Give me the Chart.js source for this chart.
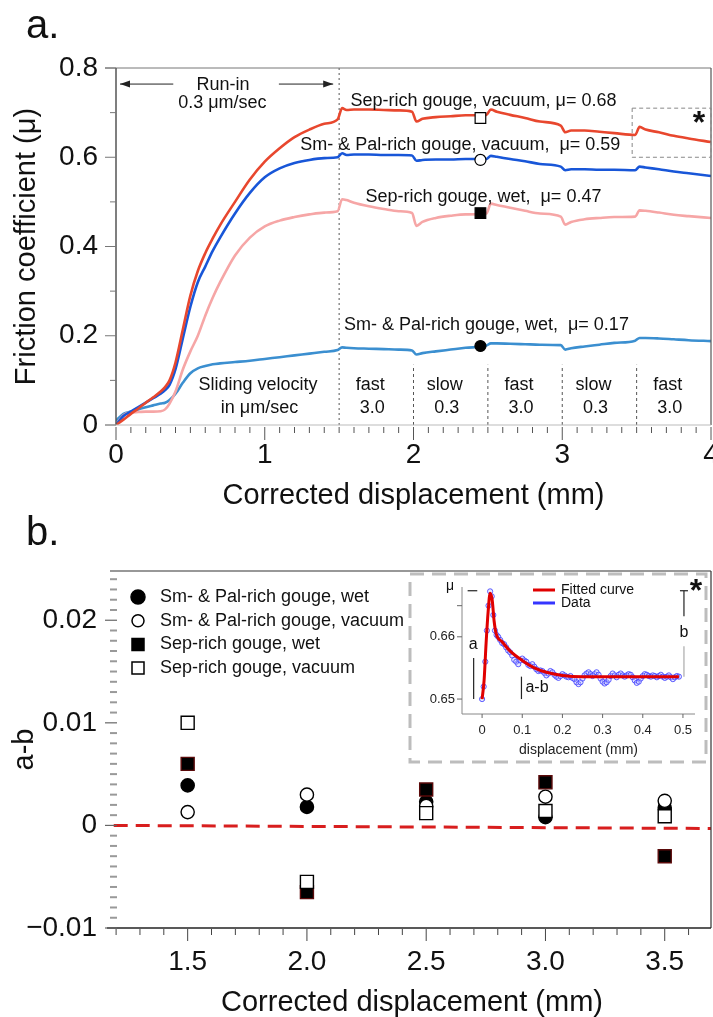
<!DOCTYPE html>
<html>
<head>
<meta charset="utf-8">
<script src="https://cdn.jsdelivr.net/npm/chart.js@4.4.1/dist/chart.umd.min.js"></script>
<style>
html, body { margin: 0; padding: 0; background: #fff; }
#wrap { position: relative; width: 713px; height: 1017px; }
canvas { position: absolute; }
#chartA { left: 0; top: 0; }
#chartB { left: 0; top: 510px; }
#inset { left: 412px; top: 576px; }
</style>
</head>
<body>
<div id="wrap">
<canvas id="chartA" width="713" height="510"></canvas>
<canvas id="chartB" width="713" height="507"></canvas>
<canvas id="inset" width="292" height="182"></canvas>
</div>
<script>
const FONT = '"Liberation Sans", Arial, Helvetica, sans-serif';

// ---- panel a : friction coefficient vs corrected displacement (mm)
const displacement = [0, 0.05, 0.1, 0.15, 0.2, 0.25, 0.3, 0.33, 0.36, 0.4, 0.45, 0.5, 0.55, 0.6, 0.65, 0.7, 0.8, 0.9, 1.0, 1.1, 1.2, 1.3, 1.4, 1.49,
	1.52, 1.55, 1.6, 1.7, 1.8, 1.9, 1.99, 2.02, 2.06, 2.15, 2.25, 2.35, 2.49, 2.52, 2.56, 2.65, 2.75, 2.85, 2.99,
	3.02, 3.06, 3.15, 3.25, 3.35, 3.49, 3.52, 3.56, 3.65, 3.75, 3.85, 4.0];
const sepVacuum = [0, 0.012, 0.025, 0.037, 0.05, 0.062, 0.075, 0.085, 0.1, 0.14, 0.215, 0.29, 0.345, 0.385, 0.418, 0.448, 0.5, 0.55, 0.59, 0.62, 0.645, 0.662, 0.675, 0.685,
	0.71, 0.706, 0.707, 0.707, 0.706, 0.705, 0.702, 0.68, 0.686, 0.69, 0.692, 0.694, 0.695, 0.707, 0.702, 0.695, 0.688, 0.68, 0.671,
	0.656, 0.66, 0.66, 0.657, 0.654, 0.65, 0.668, 0.662, 0.656, 0.648, 0.642, 0.634];
const smPalVacuum = [0, 0.02, 0.03, 0.04, 0.05, 0.06, 0.07, 0.078, 0.09, 0.125, 0.195, 0.265, 0.32, 0.355, 0.39, 0.42, 0.474, 0.52, 0.555, 0.575, 0.587, 0.594, 0.598, 0.6,
	0.609, 0.605, 0.606, 0.606, 0.605, 0.605, 0.604, 0.592, 0.594, 0.595, 0.595, 0.596, 0.596, 0.603, 0.601, 0.596, 0.591, 0.585, 0.579,
	0.571, 0.573, 0.573, 0.572, 0.572, 0.571, 0.579, 0.577, 0.573, 0.568, 0.564, 0.558];
const sepWet = [0, 0.022, 0.028, 0.029, 0.03, 0.03, 0.031, 0.035, 0.048, 0.075, 0.125, 0.165, 0.2, 0.245, 0.285, 0.32, 0.38, 0.42, 0.445, 0.458, 0.466, 0.472, 0.476, 0.479,
	0.506, 0.504, 0.498, 0.49, 0.484, 0.479, 0.475, 0.446, 0.455, 0.464, 0.469, 0.472, 0.474, 0.496, 0.493, 0.487, 0.48, 0.474, 0.467,
	0.449, 0.455, 0.461, 0.464, 0.466, 0.467, 0.481, 0.48, 0.476, 0.471, 0.468, 0.464];
const smPalWet = [0.01, 0.025, 0.03, 0.035, 0.04, 0.044, 0.048, 0.05, 0.056, 0.07, 0.095, 0.116, 0.127, 0.132, 0.136, 0.138, 0.141, 0.144, 0.148, 0.152, 0.156, 0.16, 0.164, 0.168,
	0.174, 0.173, 0.172, 0.171, 0.17, 0.169, 0.167, 0.158, 0.161, 0.165, 0.169, 0.173, 0.178, 0.183, 0.183, 0.182, 0.181, 0.18, 0.179,
	0.169, 0.172, 0.176, 0.18, 0.184, 0.189, 0.195, 0.195, 0.194, 0.192, 0.19, 0.188];
const curveNames = ['Sep-rich gouge, vacuum, μ= 0.68', 'Sm- & Pal-rich gouge, vacuum,  μ= 0.59', 'Sep-rich gouge, wet,  μ= 0.47', 'Sm- & Pal-rich gouge, wet,  μ= 0.17'];
const markerX = 2.45;
const markerMu = [0.688, 0.594, 0.475, 0.177];
const velocityChanges = [1.5, 2.0, 2.5, 3.0, 3.5];
const velocityLineTop = [0.8, 0.135, 0.135, 0.135, 0.135];
const velocityNames = ['fast', 'slow', 'fast', 'slow', 'fast'];
const velocityValues = ['3.0', '0.3', '3.0', '0.3', '3.0'];

// ---- panel b : a-b vs corrected displacement
const stepDisplacement = [1.5, 2.0, 2.5, 3.0, 3.5];
const abSmPalWet = [0.0039, 0.0018, 0.0023, 0.0008, 0.0017];
const abSmPalVacuum = [0.0013, 0.0030, 0.0019, 0.0028, 0.0024];
const abSepWet = [0.0060, -0.0065, 0.0035, 0.0042, -0.0030];
const abSepVacuum = [0.0100, -0.0055, 0.0012, 0.0014, 0.0009];
const seriesNames = ['Sm- & Pal-rich gouge, wet', 'Sm- & Pal-rich gouge, vacuum', 'Sep-rich gouge, wet', 'Sep-rich gouge, vacuum'];
const zeroLineX = [1.19, 3.694];
const zeroLineY = [0, -0.0003];

// ---- inset : single velocity step
const insetX = [0, 0.004, 0.008, 0.012, 0.016, 0.02, 0.024, 0.028, 0.032, 0.036, 0.04, 0.045, 0.05, 0.055, 0.06, 0.065, 0.07, 0.075, 0.08, 0.085, 0.09, 0.095,
	0.1, 0.105, 0.11, 0.115, 0.12, 0.125, 0.13, 0.135, 0.14, 0.145, 0.15, 0.155, 0.16, 0.165, 0.17, 0.175, 0.18, 0.185, 0.19, 0.195,
	0.2, 0.205, 0.21, 0.215, 0.22, 0.225, 0.23, 0.235, 0.24, 0.245, 0.25, 0.255, 0.26, 0.265, 0.27, 0.275, 0.28, 0.285, 0.29, 0.295,
	0.3, 0.305, 0.31, 0.315, 0.32, 0.325, 0.33, 0.335, 0.34, 0.345, 0.35, 0.355, 0.36, 0.365, 0.37, 0.375, 0.38, 0.385, 0.39, 0.395,
	0.4, 0.405, 0.41, 0.415, 0.42, 0.425, 0.43, 0.435, 0.44, 0.445, 0.45, 0.455, 0.46, 0.465, 0.47, 0.475, 0.48, 0.485, 0.49];
const insetMu = [0.650, 0.652, 0.656, 0.661, 0.665, 0.6673, 0.6665, 0.6635, 0.661, 0.6603, 0.6600, 0.6595, 0.6590, 0.6588, 0.6583, 0.6578, 0.6575, 0.6570, 0.6563, 0.6560, 0.6556, 0.6562,
	0.6565, 0.6562, 0.6560, 0.6555, 0.6553, 0.6556, 0.6552, 0.6548, 0.6545, 0.6546, 0.6545, 0.6542, 0.6538, 0.6541, 0.6545, 0.6543, 0.6539, 0.6536, 0.6534, 0.6537,
	0.6540, 0.6538, 0.6536, 0.6535, 0.6537, 0.6534, 0.6532, 0.6527, 0.6524, 0.6527, 0.6533, 0.6538, 0.6541, 0.6543, 0.6540, 0.6537, 0.6540, 0.6543, 0.6539, 0.6533,
	0.6528, 0.6525, 0.6527, 0.6531, 0.6537, 0.6541, 0.6538, 0.6535, 0.6539, 0.6541, 0.6538, 0.6536, 0.6538, 0.6540, 0.6539, 0.6535, 0.6530, 0.6526, 0.6528, 0.6533,
	0.6537, 0.6540, 0.6539, 0.6537, 0.6536, 0.6538, 0.6537, 0.6535, 0.6537, 0.6539, 0.6536, 0.6534, 0.6536, 0.6538, 0.6535, 0.6532, 0.6535, 0.6537, 0.6536];
const fitX = [0, 0.005, 0.01, 0.015, 0.02, 0.025, 0.03, 0.035, 0.05, 0.07, 0.1, 0.13, 0.16, 0.2, 0.25, 0.3, 0.4, 0.49];
const fitMu = [0.650, 0.653, 0.659, 0.664, 0.667, 0.666, 0.6625, 0.6605, 0.6592, 0.6577, 0.6562, 0.655, 0.6543, 0.6538, 0.6536, 0.6536, 0.6536, 0.6536];

Chart.defaults.font.family = FONT;
Chart.defaults.color = '#111';

function seg(ctx, x1, y1, x2, y2, color, width, dash) {
	ctx.save();
	ctx.beginPath();
	ctx.setLineDash(dash || []);
	ctx.strokeStyle = color;
	ctx.lineWidth = width;
	ctx.moveTo(x1, y1);
	ctx.lineTo(x2, y2);
	ctx.stroke();
	ctx.restore();
}

function text(ctx, str, x, y, size, align, weight, baseline) {
	ctx.save();
	ctx.font = (weight || 'normal') + ' ' + size + 'px ' + FONT;
	ctx.fillStyle = '#111';
	ctx.textAlign = align || 'center';
	ctx.textBaseline = baseline || 'middle';
	ctx.fillText(str, x, y);
	ctx.restore();
}

function arrow(ctx, x1, y, x2) {
	seg(ctx, x1, y, x2, y, '#222', 1);
	const dir = Math.sign(x2 - x1);
	ctx.save();
	ctx.fillStyle = '#222';
	ctx.beginPath();
	ctx.moveTo(x2, y);
	ctx.lineTo(x2 - dir * 10, y - 3.5);
	ctx.lineTo(x2 - dir * 10, y + 3.5);
	ctx.closePath();
	ctx.fill();
	ctx.restore();
}

function marker(ctx, shape, filled, x, y, size) {
	ctx.save();
	ctx.fillStyle = filled ? '#000' : '#fff';
	ctx.strokeStyle = '#000';
	ctx.lineWidth = 1.5;
	ctx.beginPath();
	if (shape == 'circle')
		ctx.arc(x, y, size / 2, 0, Math.PI * 2);
	else
		ctx.rect(x - size / 2, y - size / 2, size, size);
	ctx.fill();
	ctx.stroke();
	ctx.restore();
}

// fixed axis boxes, no extra room for the edge labels
function fixHeight(h) {
	return s => { s.height = h; s.paddingLeft = 0; s.paddingRight = 0; };
}
function fixWidth(w) {
	return s => { s.width = w; s.paddingTop = 0; s.paddingBottom = 0; };
}

// ---------------- panel a
const panelA = {
	id: 'panelA',
	afterDraw(chart) {
		const {ctx, chartArea: {left, right, top, bottom}, scales: {x, y}} = chart;

		seg(ctx, left - 11, top, right, top, '#777', 1);
		seg(ctx, left, top, left, bottom, '#555', 1.5);
		seg(ctx, right, top, right, bottom, '#555', 1.2);
		seg(ctx, left - 11, bottom, right, bottom, '#bbb', 1.2);
		for (let i = 0; i <= 40; i++) {
			const px = x.getPixelForValue(i / 10);
			seg(ctx, px, bottom + 2, px, bottom + (i % 10 == 0 ? 15 : 8), '#555', 1);
		}
		for (let i = 0; i <= 8; i++) {
			const py = y.getPixelForValue(i / 10);
			seg(ctx, left - (i % 2 == 0 ? 11 : 6), py, left, py, '#777', 1);
		}

		// run-in arrows and notes
		const ay = y.getPixelForValue(0.764);
		arrow(ctx, x.getPixelForValue(0.385), ay, x.getPixelForValue(0.027));
		arrow(ctx, x.getPixelForValue(1.095), ay, x.getPixelForValue(1.46));
		text(ctx, 'Run-in', x.getPixelForValue(0.72), ay + 1, 18);
		text(ctx, '0.3 μm/sec', x.getPixelForValue(0.715), ay + 19, 18);

		text(ctx, 'Sliding velocity', x.getPixelForValue(0.955), y.getPixelForValue(0.0885), 18);
		text(ctx, 'in μm/sec', x.getPixelForValue(0.965), y.getPixelForValue(0.039), 18);
		for (let i = 0; i < velocityNames.length; i++) {
			const cx = x.getPixelForValue(velocityChanges[i] + 0.21);
			text(ctx, velocityNames[i], cx, y.getPixelForValue(0.0885), 18);
			text(ctx, velocityValues[i], cx + 2, y.getPixelForValue(0.039), 18);
		}

		text(ctx, curveNames[0], x.getPixelForValue(2.47), y.getPixelForValue(0.726), 18);
		text(ctx, curveNames[1], x.getPixelForValue(2.315), y.getPixelForValue(0.627), 18);
		text(ctx, curveNames[2], x.getPixelForValue(2.47), y.getPixelForValue(0.511), 18);
		text(ctx, curveNames[3], x.getPixelForValue(2.49), y.getPixelForValue(0.224), 18);

		// zoom box
		ctx.save();
		ctx.setLineDash([4, 3]);
		ctx.strokeStyle = '#888';
		ctx.lineWidth = 1;
		const bx = x.getPixelForValue(3.47), by = y.getPixelForValue(0.71);
		ctx.strokeRect(bx, by, right - bx, y.getPixelForValue(0.6) - by);
		ctx.restore();
		text(ctx, '*', right - 12, by + 25, 32, 'center', 'bold', 'alphabetic');

		text(ctx, 'a.', 26, 38, 40, 'left', 'normal', 'alphabetic');
	}
};

function curve(label, ys, color, order) {
	return {
		type: 'line', label: label,
		data: displacement.map((d, i) => ({x: d, y: ys[i]})),
		borderColor: color, borderWidth: 2.6, pointRadius: 0, showLine: true,
		cubicInterpolationMode: 'monotone', order: order,
	};
}

const datasetsA = [
	curve(curveNames[0], sepVacuum, '#e8472e', 1),
	curve(curveNames[1], smPalVacuum, '#1856d8', 2),
	curve(curveNames[2], sepWet, '#f6a6a6', 3),
	curve(curveNames[3], smPalWet, '#3b8fd0', 4),
];
velocityChanges.forEach((v, i) => {
	datasetsA.push({
		type: 'line', data: [{x: v, y: 0}, {x: v, y: velocityLineTop[i]}],
		borderColor: '#555', borderWidth: 1, borderDash: i == 0 ? [2, 3] : [3, 3],
		pointRadius: 0, showLine: true, order: 10,
	});
});
const markerShape = ['rect', 'circle', 'rect', 'circle'];
markerMu.forEach((m, i) => {
	datasetsA.push({
		type: 'scatter', data: [{x: markerX, y: m}],
		pointStyle: markerShape[i], pointRadius: markerShape[i] == 'rect' ? 7.5 : 5.5,
		backgroundColor: i < 2 ? '#fff' : '#000', borderColor: '#000', borderWidth: 1.2,
		order: 0,
	});
});

new Chart(document.getElementById('chartA'), {
	type: 'scatter',
	data: {datasets: datasetsA},
	options: {
		responsive: false, animation: false, devicePixelRatio: 1, events: [],
		layout: {autoPadding: false, padding: {left: 0, right: 2, top: 68, bottom: 0}},
		plugins: {legend: {display: false}, tooltip: {enabled: false}},
		scales: {
			x: {
				type: 'linear', min: 0, max: 4,
				afterFit: fixHeight(85),
				grid: {display: false, drawTicks: false}, border: {display: false},
				ticks: {stepSize: 1, padding: 13, font: {size: 28}, color: '#111', callback: v => String(v)},
				title: {display: true, text: 'Corrected displacement (mm)', font: {size: 29, lineHeight: 1}, padding: {top: 0, bottom: 0}, color: '#111'},
			},
			y: {
				type: 'linear', min: 0, max: 0.8,
				afterFit: fixWidth(116),
				grid: {display: false, drawTicks: false}, border: {display: false},
				ticks: {stepSize: 0.2, padding: 18, font: {size: 28}, color: '#111', callback: v => v == 0 ? '0' : v.toFixed(1)},
				title: {display: true, text: 'Friction coefficient (μ)', font: {size: 29, lineHeight: 1}, padding: {top: 12, bottom: 0}, color: '#111'},
			},
		},
	},
	plugins: [panelA],
});

// ---------------- panel b
const shapesB = ['circle', 'circle', 'rect', 'rect'];
const filledB = [true, false, true, false];
const valuesB = [abSmPalWet, abSmPalVacuum, abSepWet, abSepVacuum];

const panelB = {
	id: 'panelB',
	afterDraw(chart) {
		const {ctx, chartArea: {left, right, top, bottom}, scales: {x, y}} = chart;

		seg(ctx, left - 3, top, right, top, '#333', 1.2);
		seg(ctx, right, top, right, bottom, '#333', 1.2);
		seg(ctx, left - 6, bottom, right, bottom, '#222', 1.6);
		for (let i = 12; i <= 36; i++) {
			const px = x.getPixelForValue(i / 10);
			seg(ctx, px, bottom + 1, px, bottom + (i % 5 == 0 ? 13 : 7), '#444', 1);
		}
		for (let i = -10; i <= 24; i++) {
			const py = y.getPixelForValue(i / 1000);
			const major = i % 10 == 0;
			seg(ctx, left - (major ? 8 : 3), py, left + 4, py, major ? '#666' : '#999', major ? 1.2 : 2);
		}

		// legend
		for (let i = 0; i < seriesNames.length; i++) {
			const ly = top + 26 + i * 23.7;
			marker(ctx, shapesB[i], filledB[i], left + 25, ly, filledB[i] && shapesB[i] == 'circle' ? 14 : 12);
			text(ctx, seriesNames[i], left + 47, ly, 18, 'left');
		}

		// inset frame
		ctx.save();
		ctx.setLineDash([14, 8]);
		ctx.strokeStyle = '#bdbdbd';
		ctx.lineWidth = 3;
		ctx.strokeRect(410, top + 3, right - 5 - 410, 188);
		ctx.restore();

		text(ctx, 'b.', 26, 35, 40, 'left', 'normal', 'alphabetic');
	}
};

const datasetsB = [{
	type: 'line', data: zeroLineX.map((v, i) => ({x: v, y: zeroLineY[i]})),
	borderColor: '#d81e1e', borderWidth: 3, borderDash: [14, 8], pointRadius: 0, showLine: true, order: 10,
}];
valuesB.forEach((vals, i) => {
	datasetsB.push({
		type: 'scatter', label: seriesNames[i],
		data: stepDisplacement.map((d, j) => ({x: d, y: vals[j]})),
		pointStyle: shapesB[i], pointRadius: shapesB[i] == 'rect' ? 9.2 : 6.6,
		backgroundColor: filledB[i] ? '#000' : '#fff',
		borderColor: filledB[i] && shapesB[i] == 'rect' ? '#5a0a0a' : '#000', borderWidth: 1.4,
		order: 4 - i,
	});
});

new Chart(document.getElementById('chartB'), {
	type: 'scatter',
	data: {datasets: datasetsB},
	options: {
		responsive: false, animation: false, devicePixelRatio: 1, events: [],
		layout: {autoPadding: false, padding: {left: 0, right: 2, top: 61, bottom: 0}},
		plugins: {legend: {display: false}, tooltip: {enabled: false}},
		scales: {
			x: {
				type: 'linear', min: 1.187, max: 3.694,
				afterFit: fixHeight(89),
				grid: {display: false, drawTicks: false}, border: {display: false},
				ticks: {stepSize: 0.5, includeBounds: false, padding: 17, font: {size: 28}, color: '#111', callback: v => v.toFixed(1)},
				title: {display: true, text: 'Corrected displacement (mm)', font: {size: 29, lineHeight: 1}, padding: {top: 0, bottom: 0}, color: '#111'},
			},
			y: {
				type: 'linear', min: -0.01, max: 0.0248,
				afterFit: fixWidth(113),
				grid: {display: false, drawTicks: false}, border: {display: false},
				ticks: {stepSize: 0.01, includeBounds: false, padding: 16, font: {size: 28}, color: '#111',
					callback: v => Math.abs(v) < 1e-9 ? '0' : v.toFixed(2).replace('-', '\u2212')},
				title: {display: true, text: 'a-b', font: {size: 29, lineHeight: 1}, padding: {top: 10, bottom: 0}, color: '#111'},
			},
		},
	},
	plugins: [panelB],
});

// ---------------- inset
const insetPanel = {
	id: 'insetPanel',
	afterDraw(chart) {
		const {ctx, chartArea: {left, right, top, bottom}, scales: {x, y}} = chart;

		seg(ctx, left, top, left, bottom, '#888', 1);
		seg(ctx, left, bottom, right, bottom, '#888', 1);
		for (let i = 0; i <= 5; i++) {
			const px = x.getPixelForValue(i / 10);
			seg(ctx, px, bottom, px, bottom + 4, '#666', 1);
		}
		[0.65, 0.66, 0.665].forEach(v => {
			const py = y.getPixelForValue(v);
			seg(ctx, left - 5, py, left, py, '#666', 1);
		});

		text(ctx, 'μ', left - 12, top - 1, 14);
		text(ctx, '*', right + 1, top + 14, 32, 'center', 'bold', 'alphabetic');

		// legend
		seg(ctx, 121, 14, 143, 14, '#e00000', 3);
		text(ctx, 'Fitted curve', 149, 14, 14, 'left');
		seg(ctx, 121, 27, 143, 27, '#3535ff', 3);
		text(ctx, 'Data', 149, 27, 14, 'left');

		// a, a-b, b brackets
		const pk = y.getPixelForValue(0.6674);
		seg(ctx, x.getPixelForValue(-0.036), pk, x.getPixelForValue(-0.012), pk, '#222', 1.2);
		seg(ctx, x.getPixelForValue(-0.021), y.getPixelForValue(0.6566), x.getPixelForValue(-0.021), y.getPixelForValue(0.650), '#222', 1.2);
		text(ctx, 'a', x.getPixelForValue(-0.022), y.getPixelForValue(0.6588), 16);
		const abx = x.getPixelForValue(0.098);
		seg(ctx, abx, y.getPixelForValue(0.6536), abx, y.getPixelForValue(0.650), '#222', 1.2);
		text(ctx, 'a-b', abx + 4, y.getPixelForValue(0.6518), 16, 'left');
		const bx = x.getPixelForValue(0.5025);
		seg(ctx, bx - 4, pk, bx + 4, pk, '#222', 1.2);
		seg(ctx, bx, pk, bx, y.getPixelForValue(0.6633), '#222', 1.2);
		text(ctx, 'b', bx, y.getPixelForValue(0.6607), 16);
		seg(ctx, bx, y.getPixelForValue(0.6585), bx, y.getPixelForValue(0.6536), '#aaa', 1.2);
	}
};

new Chart(document.getElementById('inset'), {
	type: 'scatter',
	data: {
		datasets: [
			{
				type: 'line', label: 'Fitted curve',
				data: fitX.map((v, i) => ({x: v, y: fitMu[i]})),
				borderColor: '#e00000', borderWidth: 3, pointRadius: 0, showLine: true,
				cubicInterpolationMode: 'monotone', order: 0,
			},
			{
				type: 'scatter', label: 'Data',
				data: insetX.map((v, i) => ({x: v, y: insetMu[i]})),
				pointStyle: 'circle', pointRadius: 2.6,
				backgroundColor: 'rgba(190,190,255,0.35)', borderColor: 'rgba(60,60,255,0.8)', borderWidth: 1,
				order: 1, clip: false,
			},
		],
	},
	options: {
		responsive: false, animation: false, devicePixelRatio: 1, events: [],
		layout: {autoPadding: false, padding: {left: 0, right: 9, top: 11, bottom: 0}},
		plugins: {legend: {display: false}, tooltip: {enabled: false}},
		scales: {
			x: {
				type: 'linear', min: -0.05, max: 0.53,
				afterFit: fixHeight(44),
				grid: {display: false, drawTicks: false}, border: {display: false},
				ticks: {stepSize: 0.1, includeBounds: false, padding: 9, font: {size: 13}, color: '#222',
					callback: v => Math.abs(v) < 1e-9 ? '0' : v.toFixed(1)},
				title: {display: true, text: 'displacement (mm)', font: {size: 14, lineHeight: 1}, padding: {top: 0, bottom: 1}, color: '#222'},
			},
			y: {
				type: 'linear', min: 0.6476, max: 0.668,
				afterFit: fixWidth(50),
				grid: {display: false, drawTicks: false}, border: {display: false},
				ticks: {stepSize: 0.005, includeBounds: false, padding: 7, font: {size: 13}, color: '#222',
					callback: v => (Math.abs(v - 0.65) < 1e-6 || Math.abs(v - 0.66) < 1e-6) ? v.toFixed(2) : ''},
			},
		},
	},
	plugins: [insetPanel],
});
</script>
</body>
</html>
